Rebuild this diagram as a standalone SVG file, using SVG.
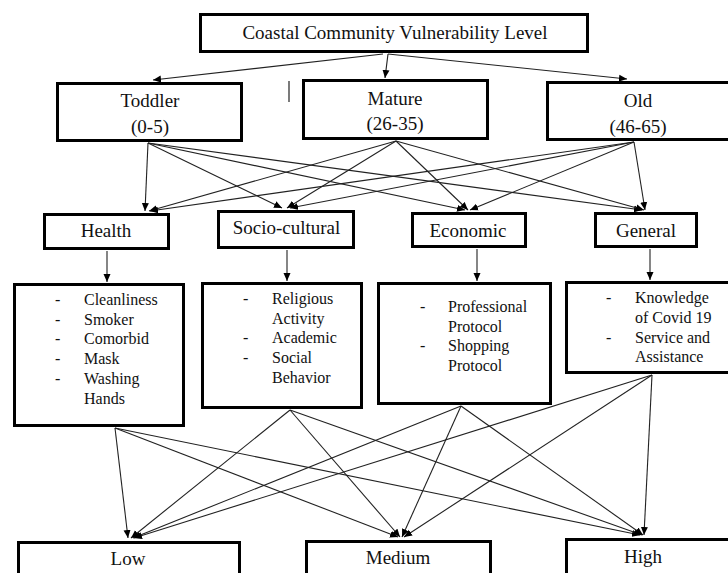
<svg xmlns="http://www.w3.org/2000/svg" width="728" height="573" viewBox="0 0 728 573">
  <style>
    .box { fill: #ffffff; stroke: #000000; stroke-width: 3; }
    .h { font-family: 'Liberation Serif', 'DejaVu Serif', serif; font-size: 19px; fill: #111111; text-anchor: middle; }
    .l { font-family: 'Liberation Serif', 'DejaVu Serif', serif; font-size: 16px; fill: #111111; }
    .c { fill: none; stroke: #222222; stroke-width: 1.1; marker-end: url(#ah); }
  </style>
  <defs>
    <marker id="ah" markerUnits="userSpaceOnUse" markerWidth="9" markerHeight="8" refX="8" refY="4" orient="auto">
      <path d="M0,0.5 L8,4 L0,7.5 z" fill="#000000"/>
    </marker>
  </defs>
  <rect width="728" height="573" fill="#ffffff"/>

  <g id="connectors">
    <path class="c" d="M383,54 L153,80"/>
    <path class="c" d="M388,54 L385,78"/>
    <path class="c" d="M388,54 L627,79"/>

    <path class="c" d="M148,143 L145,211"/>
    <path class="c" d="M148,143 L282,208"/>
    <path class="c" d="M148,143 L465,210"/>
    <path class="c" d="M148,143 L642,210"/>
    <path class="c" d="M396,141 L149,211"/>
    <path class="c" d="M396,141 L287,208"/>
    <path class="c" d="M396,141 L468,210"/>
    <path class="c" d="M396,141 L644,210"/>
    <path class="c" d="M634,142 L150,211"/>
    <path class="c" d="M634,142 L290,208"/>
    <path class="c" d="M634,142 L470,210"/>
    <path class="c" d="M634,142 L645,210"/>

    <path class="c" d="M107,251 L107,282"/>
    <path class="c" d="M287,250 L287,281"/>
    <path class="c" d="M477,249 L477,281"/>
    <path class="c" d="M650,249 L650,280"/>

    <path class="c" d="M115,428 L128,538"/>
    <path class="c" d="M115,428 L398,537"/>
    <path class="c" d="M115,428 L640,535"/>
    <path class="c" d="M290,410 L131,538"/>
    <path class="c" d="M290,410 L400,537"/>
    <path class="c" d="M290,410 L642,535"/>
    <path class="c" d="M461,406 L133,538"/>
    <path class="c" d="M461,406 L402,537"/>
    <path class="c" d="M461,406 L643,535"/>
    <path class="c" d="M652,375 L134,538"/>
    <path class="c" d="M652,375 L404,537"/>
    <path class="c" d="M652,375 L644,535"/>

    <line x1="289" y1="81" x2="289" y2="102" stroke="#222222" stroke-width="1.2"/>
  </g>

  <g id="title">
    <rect class="box" x="200.5" y="14.5" width="387" height="37"/>
    <text class="h" x="395" y="39">Coastal Community Vulnerability Level</text>
  </g>

  <g id="toddler">
    <rect class="box" x="57.5" y="83.5" width="184" height="57"/>
    <text class="h" x="150" y="107">Toddler</text>
    <text class="h" x="150" y="133">(0-5)</text>
  </g>
  <g id="mature">
    <rect class="box" x="303.5" y="80.5" width="184" height="58"/>
    <text class="h" x="395" y="105">Mature</text>
    <text class="h" x="395" y="130">(26-35)</text>
  </g>
  <g id="old">
    <rect class="box" x="547.5" y="82.5" width="190" height="57"/>
    <text class="h" x="638" y="107">Old</text>
    <text class="h" x="638" y="133">(46-65)</text>
  </g>

  <g id="health">
    <rect class="box" x="44.5" y="214.5" width="124" height="34"/>
    <text class="h" x="106" y="237">Health</text>
  </g>
  <g id="socio-cultural">
    <rect class="box" x="218.5" y="211.5" width="135" height="36"/>
    <text class="h" x="286.5" y="234">Socio-cultural</text>
  </g>
  <g id="economic">
    <rect class="box" x="412.5" y="213.5" width="113" height="33"/>
    <text class="h" x="468" y="237">Economic</text>
  </g>
  <g id="general">
    <rect class="box" x="595.5" y="213.5" width="101" height="33"/>
    <text class="h" x="646" y="237">General</text>
  </g>

  <g id="health-list">
    <rect class="box" x="14.5" y="284.5" width="169" height="141"/>
    <text class="l" x="55" y="305">-</text><text class="l" x="84" y="305">Cleanliness</text>
    <text class="l" x="55" y="324.7">-</text><text class="l" x="84" y="324.7">Smoker</text>
    <text class="l" x="55" y="344.4">-</text><text class="l" x="84" y="344.4">Comorbid</text>
    <text class="l" x="55" y="364">-</text><text class="l" x="84" y="364">Mask</text>
    <text class="l" x="55" y="383.8">-</text><text class="l" x="84" y="383.8">Washing</text>
    <text class="l" x="84" y="403.5">Hands</text>
  </g>
  <g id="socio-list">
    <rect class="box" x="202.5" y="283.5" width="159" height="124"/>
    <text class="l" x="243" y="304">-</text><text class="l" x="272" y="304">Religious</text>
    <text class="l" x="272" y="323.5">Activity</text>
    <text class="l" x="243" y="343">-</text><text class="l" x="272" y="343">Academic</text>
    <text class="l" x="243" y="363">-</text><text class="l" x="272" y="363">Social</text>
    <text class="l" x="272" y="382.5">Behavior</text>
  </g>
  <g id="economic-list">
    <rect class="box" x="378.5" y="283.5" width="172" height="120"/>
    <text class="l" x="420" y="312">-</text><text class="l" x="448" y="312">Professional</text>
    <text class="l" x="448" y="331.5">Protocol</text>
    <text class="l" x="420" y="351">-</text><text class="l" x="448" y="351">Shopping</text>
    <text class="l" x="448" y="370.5">Protocol</text>
  </g>
  <g id="general-list">
    <rect class="box" x="566.5" y="282.5" width="170" height="90"/>
    <text class="l" x="606" y="303">-</text><text class="l" x="635" y="303">Knowledge</text>
    <text class="l" x="635" y="323">of Covid 19</text>
    <text class="l" x="606" y="342.5">-</text><text class="l" x="635" y="342.5">Service and</text>
    <text class="l" x="635" y="362">Assistance</text>
  </g>

  <g id="low">
    <rect class="box" x="18.5" y="542.5" width="221" height="40"/>
    <text class="h" x="128" y="565">Low</text>
  </g>
  <g id="medium">
    <rect class="box" x="306.5" y="541.5" width="184" height="40"/>
    <text class="h" x="398" y="564">Medium</text>
  </g>
  <g id="high">
    <rect class="box" x="566.5" y="539.5" width="170" height="40"/>
    <text class="h" x="643" y="563">High</text>
  </g>
</svg>
